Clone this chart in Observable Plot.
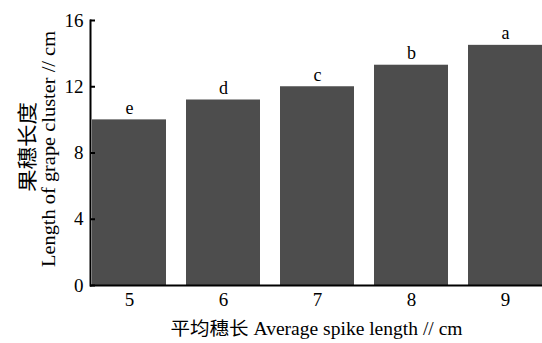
<!DOCTYPE html>
<html><head><meta charset="utf-8">
<script src="https://cdn.jsdelivr.net/npm/d3@7"></script>
<script src="https://cdn.jsdelivr.net/npm/@observablehq/plot@0.6"></script>
<style>body{margin:0;background:#fff}</style>
</head><body><div id="chart"></div>
<script>
const categories = ["5", "6", "7", "8", "9"];
const values = [10.0, 11.2, 12.0, 13.3, 14.5];
const letters = ["e", "d", "c", "b", "a"];
const yTicks = [0, 4, 8, 12, 16];
const xTitle = "平均穗长 Average spike length // cm";
const yTitleCn = "果穗长度";
const yTitleEn = "Length of grape cluster // cm";

const data = categories.map((c, i) => ({x: c, y: values[i], l: letters[i]}));
const W = 542, ML = 90;

const chart = Plot.plot({
  width: W, height: 343,
  marginLeft: ML, marginTop: 20, marginBottom: 58, marginRight: 0,
  style: {fontFamily: "'Liberation Serif','Noto Sans CJK SC',serif", fontSize: "18px", background: "#fff", color: "#000", overflow: "hidden"},
  x: {type: "band", domain: categories, range: [89.5, 544.5], paddingInner: 0.21, paddingOuter: 0, label: null},
  y: {domain: [0, 16], label: null},
  marks: [
    Plot.barY(data, {x: "x", y: "y", fill: "#4d4d4d"}),
    Plot.text(data, {x: "x", y: "y", text: "l", dy: -12, fontSize: 18}),
    Plot.ruleY([0], {stroke: "#000", strokeWidth: 2}),
    Plot.frame({anchor: "left", stroke: "#000", strokeWidth: 2}),
    Plot.ruleY(yTicks, {stroke: "#000", strokeWidth: 2, insetRight: W - ML - 5}),
    Plot.axisY({ticks: yTicks, tickSize: 0, tickPadding: 7, label: null, fontSize: 19}),
    Plot.axisX({tickSize: 0, tickPadding: 7, label: null, fontSize: 19}),
    Plot.text([xTitle], {frameAnchor: "bottom", dy: 49, fontSize: 18, className: "xtitle"}),
    Plot.text([yTitleCn], {frameAnchor: "left", rotate: -90, dx: -62, dy: -6, fontSize: 20, textAnchor: "middle", className: "ytitlecn"}),
    Plot.text([yTitleEn], {frameAnchor: "left", rotate: -90, dx: -41, dy: -4, fontSize: 18, textAnchor: "middle", className: "ytitleen"})
  ]
});
document.getElementById("chart").append(chart);
const fit = (cls, len) => chart.querySelectorAll(`g.${cls} text`).forEach(t => {
  t.setAttribute("textLength", len);
  t.setAttribute("lengthAdjust", "spacingAndGlyphs");
});
fit("xtitle", 292);
fit("ytitlecn", 90);
fit("ytitleen", 236);
</script>
</body></html>
